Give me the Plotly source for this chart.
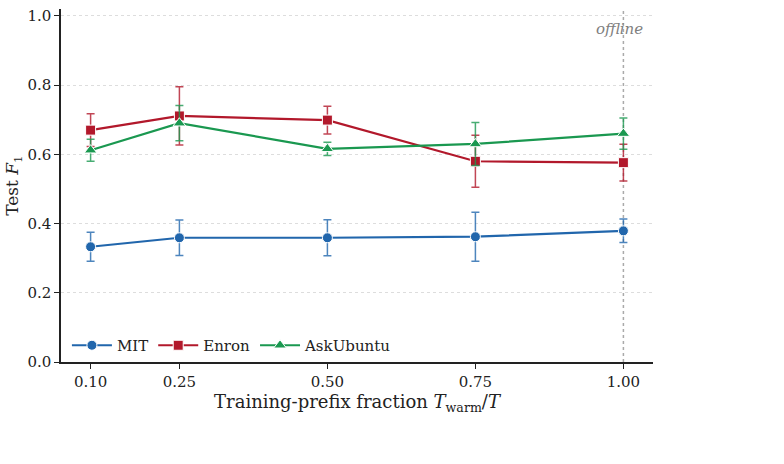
import plotly.graph_objects as go

fractions = [0.10, 0.25, 0.50, 0.75, 1.00]
tick_labels = ["0.10", "0.25", "0.50", "0.75", "1.00"]

mit_mean = [0.333, 0.359, 0.359, 0.362, 0.379]
mit_err = [0.042, 0.051, 0.052, 0.071, 0.034]

enron_mean = [0.670, 0.711, 0.699, 0.580, 0.576]
enron_err = [0.047, 0.084, 0.040, 0.075, 0.053]

ask_mean = [0.612, 0.690, 0.616, 0.630, 0.660]
ask_err = [0.032, 0.051, 0.019, 0.062, 0.045]

series = [
    ("MIT", mit_mean, mit_err, "#2166ac", "rgba(33,102,172,0.8)", "circle"),
    ("Enron", enron_mean, enron_err, "#b2182b", "rgba(178,24,43,0.8)", "square"),
    ("AskUbuntu", ask_mean, ask_err, "#1a9850", "rgba(26,152,80,0.8)", "triangle-up"),
]

FONT = "DejaVu Serif"

fig = go.Figure()
for name, m, e, c, ec, sym in series:
    fig.add_trace(go.Scatter(
        x=fractions, y=m, name=name, mode="lines+markers",
        line=dict(color=c, width=2.2),
        marker=dict(symbol=sym, size=10 if sym != "triangle-up" else 11, color=c,
                    line=dict(color="white", width=1)),
        error_y=dict(type="data", array=e, visible=True, color=ec,
                     thickness=1.5, width=4),
    ))

fig.add_shape(type="line", x0=1.0, x1=1.0, y0=0, y1=1, xref="x", yref="paper",
              line=dict(color="#aaaaaa", width=1.5, dash="dot"), layer="below")

fig.add_annotation(x=1.0, y=0.962, xref="x", yref="y", text="<i>offline</i>",
                   showarrow=False, xanchor="center", yanchor="middle", xshift=-4,
                   font=dict(size=15, color="#808080"))

fig.update_layout(
    width=784, height=464,
    margin=dict(l=61, r=131, t=7, b=102),
    paper_bgcolor="white", plot_bgcolor="white",
    font=dict(family=FONT, size=15, color="#222222"),
    showlegend=True,
    legend=dict(orientation="h", x=0.01, y=0.0, xanchor="left", yanchor="bottom",
                bgcolor="rgba(255,255,255,0)", font=dict(size=15),
                itemwidth=40, tracegroupgap=0),
)

fig.update_xaxes(
    range=[0.05, 1.05], tickvals=fractions, ticktext=tick_labels,
    showline=True, linecolor="#222222", linewidth=1.5,
    ticks="outside", ticklen=5, tickwidth=1.2, tickcolor="#222222",
    showgrid=False, zeroline=False,
    tickfont=dict(size=15),
    title=dict(text="Training-prefix fraction <i>T</i><sub>warm</sub>/<i>T</i>",
               font=dict(size=18), standoff=2),
)
fig.update_yaxes(
    range=[0, 1.02], tickvals=[0.0, 0.2, 0.4, 0.6, 0.8, 1.0],
    ticktext=["0.0", "0.2", "0.4", "0.6", "0.8", "1.0"],
    showline=True, linecolor="#222222", linewidth=1.5,
    ticks="outside", ticklen=5, tickwidth=1.2, tickcolor="#222222",
    showgrid=True, gridcolor="#dddddd", griddash="dot", gridwidth=1,
    zeroline=False,
    tickfont=dict(size=15),
    title=dict(text="Test <i>F</i><sub>1</sub>", font=dict(size=17), standoff=4),
)

fig.write_html("out.html")
